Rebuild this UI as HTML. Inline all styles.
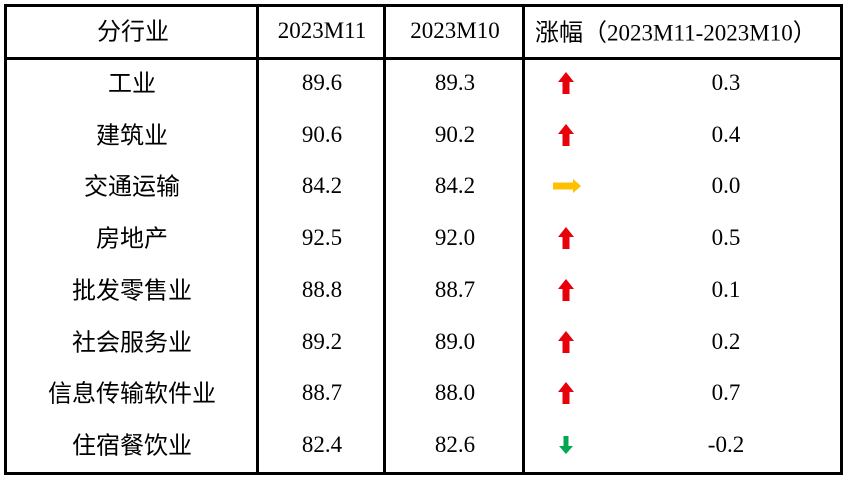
<!DOCTYPE html>
<html><head><meta charset="utf-8"><style>
html,body{margin:0;padding:0;background:#fff;width:850px;height:481px;overflow:hidden;position:relative}
.l{position:absolute;background:#000}
.t{position:absolute;transform:translate(-50%,-50%);white-space:nowrap;color:#000}
.c{font-family:"Noto Sans CJK SC",sans-serif;font-size:24px}
.n{font-family:"Liberation Serif",serif;font-size:23px}
svg{position:absolute}
</style></head><body>
<div class="l" style="left:4px;top:4px;width:839px;height:3px"></div>
<div class="l" style="left:4px;top:57px;width:839px;height:3px"></div>
<div class="l" style="left:4px;top:472px;width:839px;height:3px"></div>
<div class="l" style="left:4px;top:4px;width:3px;height:471px"></div>
<div class="l" style="left:256px;top:4px;width:3px;height:471px"></div>
<div class="l" style="left:383px;top:4px;width:3px;height:471px"></div>
<div class="l" style="left:522px;top:4px;width:3px;height:471px"></div>
<div class="l" style="left:840px;top:4px;width:3px;height:471px"></div>

<div class="t c" style="left:133px;top:29px">分行业</div>
<div class="t n" style="left:322px;top:31px">2023M11</div>
<div class="t n" style="left:455px;top:31px">2023M10</div>
<div class="t" style="left:535px;top:30px;transform:translate(0,-50%)"><span class="c">涨幅（</span><span class="n">2023M11-2023M10</span><span class="c">）</span></div>

<div id="rows"></div>
<script>
var d=[["工业","89.6","89.3","u","0.3"],["建筑业","90.6","90.2","u","0.4"],["交通运输","84.2","84.2","r","0.0"],["房地产","92.5","92.0","u","0.5"],["批发零售业","88.8","88.7","u","0.1"],["社会服务业","89.2","89.0","u","0.2"],["信息传输软件业","88.7","88.0","u","0.7"],["住宿餐饮业","82.4","82.6","d","-0.2"]];
var h="";
d.forEach(function(r,i){var y=83+i*51.7;
h+='<div class="t c" style="left:132px;top:'+(y-2)+'px">'+r[0]+'</div>';
h+='<div class="t n" style="left:322px;top:'+y+'px">'+r[1]+'</div>';
h+='<div class="t n" style="left:455px;top:'+y+'px">'+r[2]+'</div>';
h+='<div class="t n" style="left:726px;top:'+y+'px">'+r[4]+'</div>';
if(r[3]=="u")h+='<svg style="left:557px;top:'+(y-11)+'px" width="18" height="23"><polygon points="9,0 17,10 12.5,10 12.5,22 5.5,22 5.5,10 1,10" fill="#e8000b"/></svg>';
if(r[3]=="d")h+='<svg style="left:558px;top:'+(y-9)+'px" width="16" height="19"><polygon points="8,18 15,10 10.5,10 10.5,0 5.5,0 5.5,10 1,10" fill="#00a650"/></svg>';
if(r[3]=="r")h+='<svg style="left:553px;top:'+(y-8)+'px" width="29" height="16"><polygon points="28,8 20,1 20,4.5 0,4.5 0,11.5 20,11.5 20,15" fill="#ffc000"/></svg>';
});
document.getElementById("rows").innerHTML=h;
</script>
</body></html>
